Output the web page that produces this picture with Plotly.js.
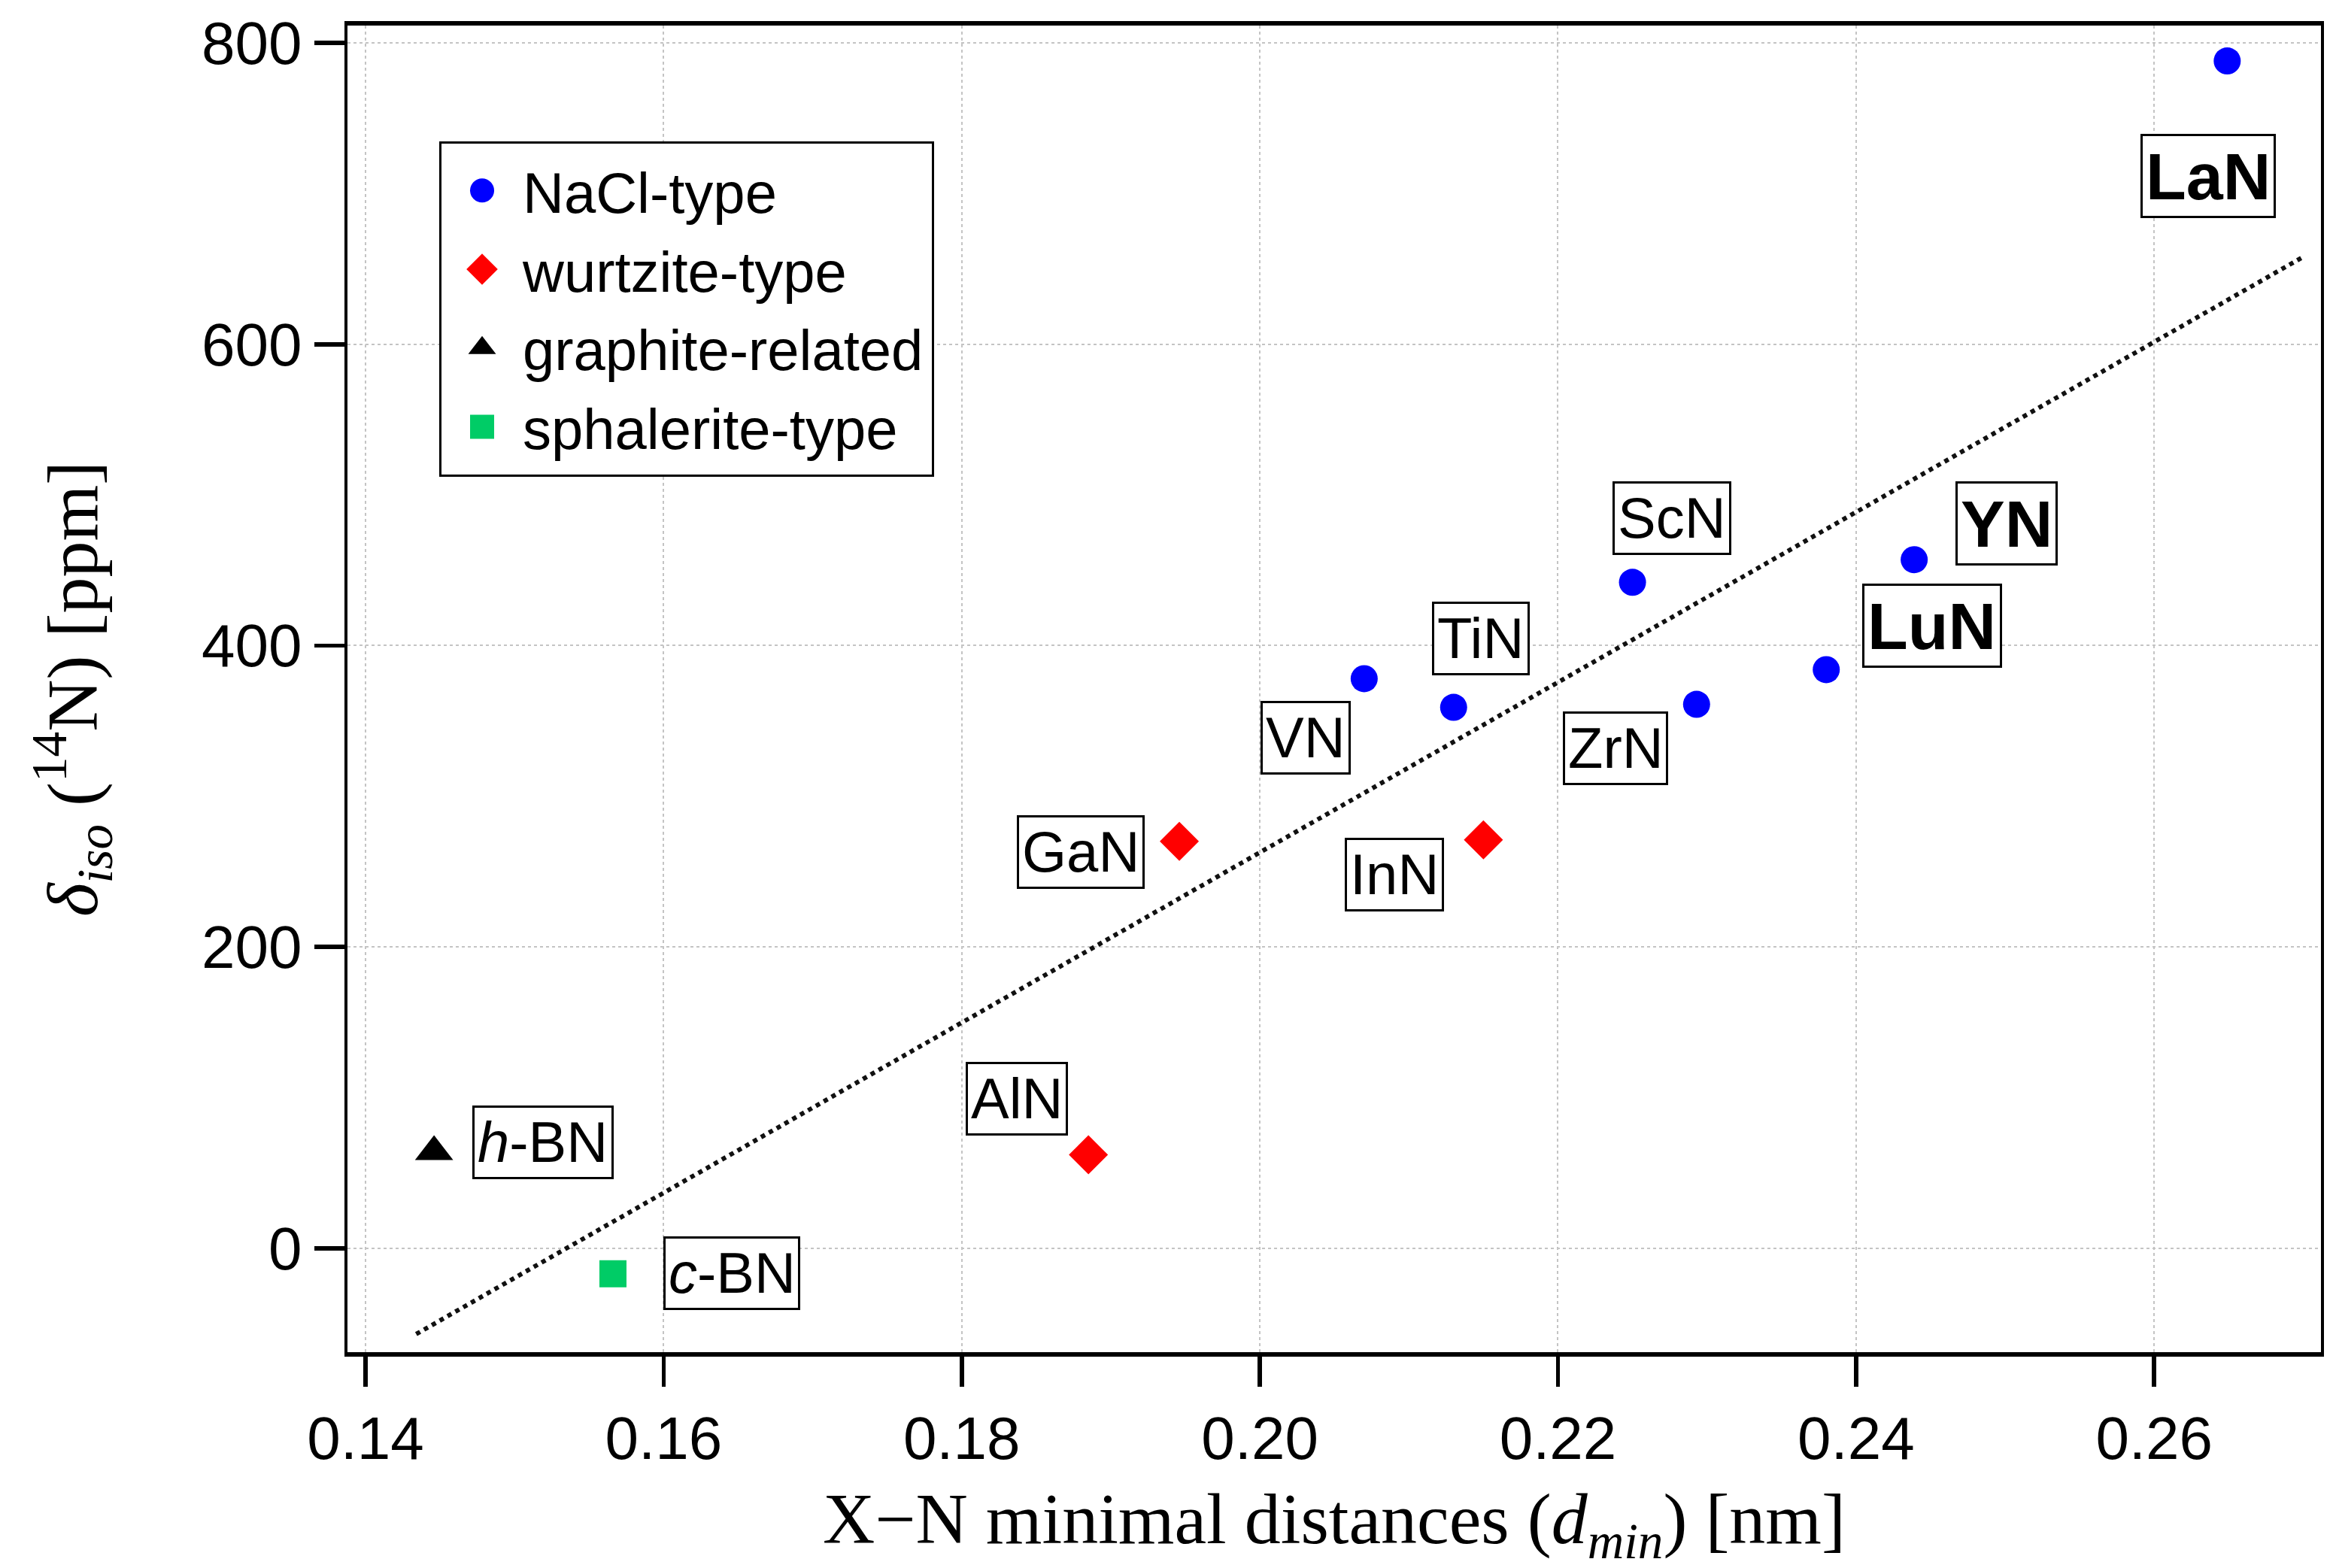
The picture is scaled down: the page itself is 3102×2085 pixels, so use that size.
<!DOCTYPE html>
<html>
<head>
<meta charset="utf-8">
<script src="https://cdn.plot.ly/plotly-3.0.1.min.js"></script>
<style>
    html, body { margin: 0; padding: 0; background: white; }
    #plotly-chart { width: 1551px; height: 1043px; }
</style>
</head>
<body>
<div id="plotly-chart"></div>
<script>
// 14N isotropic shift vs X-N minimal distance
const naclNames = ['ScN', 'TiN', 'VN', 'ZrN', 'YN', 'LuN', 'LaN'];
const naclX = [0.2250, 0.2130, 0.2070, 0.2293, 0.2439, 0.2380, 0.2649];
const naclY = [442, 359, 378, 361, 457, 384, 788];

const wurtziteNames = ['AlN', 'GaN', 'InN'];
const wurtziteX = [0.1885, 0.1946, 0.2150];
const wurtziteY = [62, 270, 271];

const graphiteNames = ['h-BN'];
const graphiteX = [0.1446];
const graphiteY = [64];

const sphaleriteNames = ['c-BN'];
const sphaleriteX = [0.1566];
const sphaleriteY = [-17];

// dotted trend line, end points
const fitX = [0.1434, 0.2700];
const fitY = [-57, 658];

const xTicks = [0.14, 0.16, 0.18, 0.20, 0.22, 0.24, 0.26];
const yTicks = [0, 200, 400, 600, 800];

const boldLabels = ['YN', 'LuN', 'LaN'];

// label box offsets from the marker, in px
const labelShift = {
    'ScN': [26, 43], 'TiN': [18, 46], 'VN': [-39, -39], 'ZrN': [-54, -29],
    'YN': [61, 24], 'LuN': [70, 29], 'LaN': [-13, -76],
    'AlN': [-48, 37], 'GaN': [-66, -7], 'InN': [-59, -23],
    'h-BN': [72, 6], 'c-BN': [79, 0],
};

const SANS = 'Liberation Sans, Arial, Helvetica, sans-serif';
const SERIF = 'Liberation Serif, Times New Roman, serif';

function labelText(name) {
    if (name === 'h-BN') return '<i>h</i>-BN';
    if (name === 'c-BN') return '<i>c</i>-BN';
    if (boldLabels.includes(name)) return '<b>' + name + '</b>';
    return name;
}

function makeLabels(names, xs, ys) {
    return names.map((name, i) => ({
        x: xs[i],
        y: ys[i],
        xref: 'x',
        yref: 'y',
        text: labelText(name),
        showarrow: false,
        xanchor: 'center',
        yanchor: 'middle',
        xshift: labelShift[name][0],
        yshift: labelShift[name][1],
        bgcolor: 'white',
        bordercolor: 'black',
        borderwidth: 1.5,
        borderpad: 2,
        font: {family: SANS, size: boldLabels.includes(name) ? 44 : 38, color: 'black'},
    }));
}

async function drawChart() {
    const fitTrace = {
        x: fitX,
        y: fitY,
        type: 'scatter',
        mode: 'lines',
        showlegend: false,
        hoverinfo: 'skip',
        line: {color: '#111111', width: 3, dash: 'dot'},
    };

    const naclTrace = {
        x: naclX, y: naclY, text: naclNames,
        type: 'scatter', mode: 'markers', name: 'NaCl-type',
        marker: {symbol: 'circle', size: 18, color: '#0000ff'},
    };

    const wurtziteTrace = {
        x: wurtziteX, y: wurtziteY, text: wurtziteNames,
        type: 'scatter', mode: 'markers', name: 'wurtzite-type',
        marker: {symbol: 'diamond', size: 20, color: '#ff0000'},
    };

    const graphiteTrace = {
        x: graphiteX, y: graphiteY, text: graphiteNames,
        type: 'scatter', mode: 'markers', name: 'graphite-related',
        marker: {symbol: 'triangle-up', size: 22, color: '#000000'},
    };

    const sphaleriteTrace = {
        x: sphaleriteX, y: sphaleriteY, text: sphaleriteNames,
        type: 'scatter', mode: 'markers', name: 'sphalerite-type',
        marker: {symbol: 'square', size: 18, color: '#00cc66'},
    };

    const data = [fitTrace, naclTrace, wurtziteTrace, graphiteTrace, sphaleriteTrace];

    const annotations = [].concat(
        makeLabels(naclNames, naclX, naclY),
        makeLabels(wurtziteNames, wurtziteX, wurtziteY),
        makeLabels(graphiteNames, graphiteX, graphiteY),
        makeLabels(sphaleriteNames, sphaleriteX, sphaleriteY),
    );

    const axisCommon = {
        ticks: 'outside',
        ticklen: 20,
        tickwidth: 2.8,
        tickcolor: 'black',
        showline: true,
        linecolor: 'black',
        mirror: true,
        showgrid: true,
        gridcolor: '#c4c4c4',
        gridwidth: 1,
        griddash: '2px,2px',
        zeroline: false,
        automargin: false,
        tickfont: {family: SANS, size: 40, color: 'black'},
    };

    const layout = {
        width: 1551,
        height: 1043,
        paper_bgcolor: 'white',
        plot_bgcolor: 'white',
        margin: {t: 17, r: 8, b: 144, l: 231},
        hovermode: false,
        showlegend: true,
        legend: {
            x: 0.0465,
            y: 0.9128,
            xanchor: 'left',
            yanchor: 'top',
            bgcolor: 'white',
            bordercolor: 'black',
            borderwidth: 1.5,
            tracegroupgap: 0,
            itemwidth: 44,
            font: {family: SANS, size: 38, color: 'black'},
        },
        xaxis: Object.assign({}, axisCommon, {
            range: [0.13879, 0.27119],
            linewidth: 2.8,
            tickvals: xTicks,
            ticktext: xTicks.map(v => v.toFixed(2)),
            title: {
                text: 'X\u2212N minimal distances (<i>d</i><sub><i>min</i></sub>) [nm]',
                font: {family: SERIF, size: 48, color: 'black'},
                standoff: 22,
            },
        }),
        yaxis: Object.assign({}, axisCommon, {
            range: [-69, 811.5],
            linewidth: 2.2,
            tickvals: yTicks,
            ticktext: yTicks.map(v => String(v)),
            title: {
                text: '<i>\u03b4</i><sub><i>iso</i></sub> (<sup>14</sup>N) [ppm]',
                font: {family: SERIF, size: 48, color: 'black'},
                standoff: 54,
            },
        }),
        annotations: annotations,
    };

    const config = {
        responsive: false,
        displayModeBar: false,
        staticPlot: true,
    };

    await Plotly.newPlot('plotly-chart', data, layout, config);
    // the page is twice the drawing size
    document.getElementById('plotly-chart').style.zoom = 2;
}

drawChart();
</script>
</body>
</html>
